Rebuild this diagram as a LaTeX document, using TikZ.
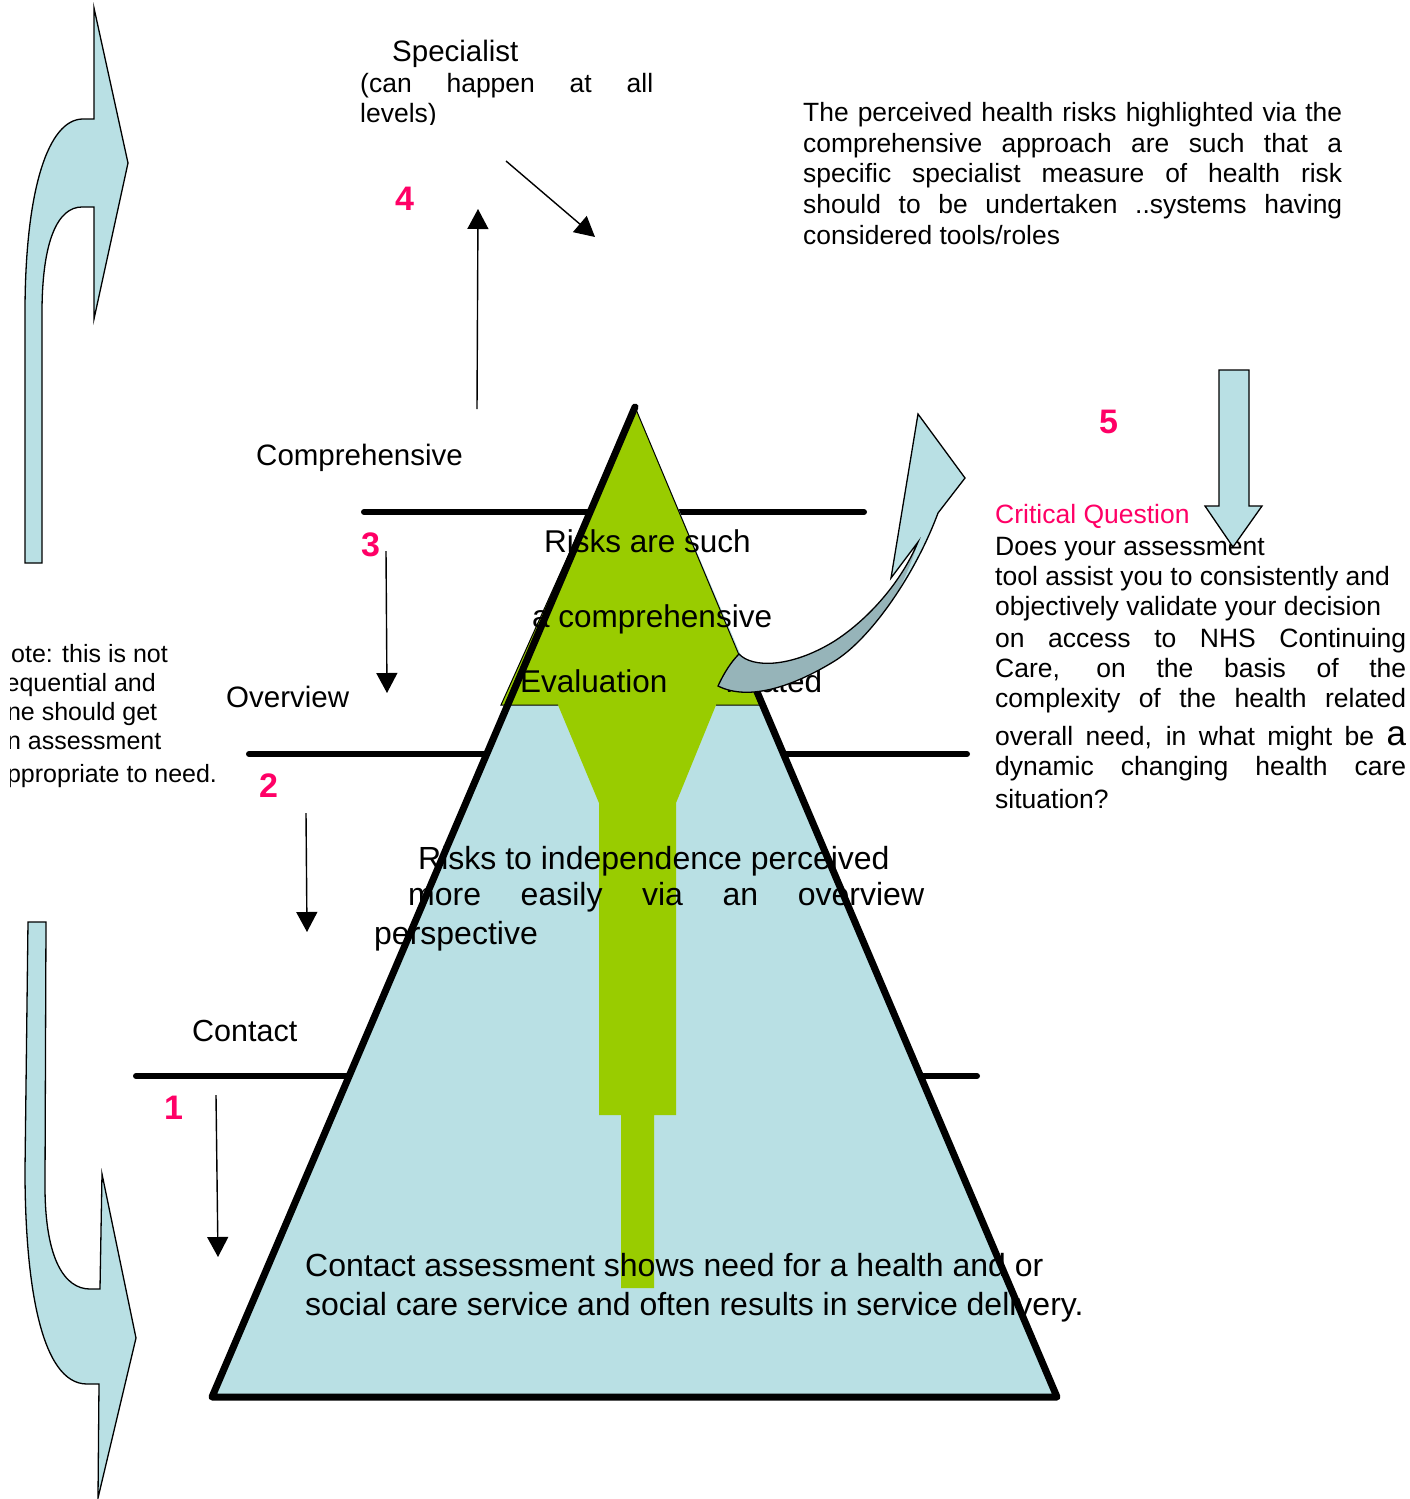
\documentclass[tikz,border=0pt]{standalone}
\usepackage{fontspec}
\setmainfont{Liberation Sans}
\usetikzlibrary{arrows.meta}
\definecolor{lblue}{RGB}{185,224,228}
\definecolor{qpink}{RGB}{255,0,102}
\definecolor{qgreen}{RGB}{153,204,0}
\definecolor{qgrey}{RGB}{150,180,185}
\newcommand\myfs[1]{\fontsize{#1}{#1}\selectfont}
\begin{document}
\begin{tikzpicture}[x=1pt,y=-1pt,
  txt/.style={inner sep=0pt, anchor=base west, text=black},
  num/.style={inner sep=0pt, anchor=base west, text=qpink, font=\myfs{34}\bfseries},
  levelline/.style={line width=6pt, line cap=round},
  thinarr/.style={line width=1.4pt, -{Triangle[length=20pt,width=21pt]}},
  blockshape/.style={fill=lblue, draw=black, line width=1.3pt, line join=miter},
]
\useasboundingbox[fill=white] (0,0) rectangle (1410,1499);

% side block arrows
\path[blockshape] (25,563) -- (25,313) .. controls (25,190) and (48,119) .. (83,119) -- (94,119) -- (94,8) -- (128,163) -- (94,319) -- (94,207) -- (82,207) .. controls (58,207) and (42,240) .. (42,313) -- (42,563) -- cycle;
\path[blockshape] (28,922) -- (46,922) -- (45,1186) .. controls (45,1260) and (65,1289) .. (90,1289) -- (100,1289) -- (102,1174) -- (136,1338) -- (98,1498) -- (99,1384) -- (87,1384) .. controls (40,1384) and (25,1280) .. (25,1170) -- cycle;

% level lines
\draw[levelline] (364,512) -- (864,512);
\draw[levelline] (249,754) -- (967,754);
\draw[levelline] (136,1076) -- (977,1076);

% pyramid fill
\fill[lblue] (635,407) -- (212,1397) -- (1057,1397) -- cycle;
% green arrow
\fill[qgreen] (635,407) -- (760,705) -- (716,705) -- (676,803) -- (676,1115) -- (654,1115) -- (654,1288) -- (621,1288) -- (621,1115) -- (599,1115) -- (599,803) -- (558,705) -- (501,705) -- cycle;
\draw[line width=1pt, line join=miter] (558,705) -- (501,705) -- (635,407) -- (760,705) -- (716,705);

% texts in pyramid
\node[txt, font=\myfs{31.5}] (t1) at (544,552) {Risks are such};
\node[txt, font=\myfs{31.5}] (t2) at (532,627) {a comprehensive};
\node[txt, font=\myfs{31.5}] (t3) at (520,692) {\makebox[302pt][s]{Evaluation related}};
\node[txt, font=\myfs{32}] (m1) at (418,869) {Risks to independence perceived};
\node[txt, font=\myfs{32}] (m2) at (408,905) {\makebox[516pt][s]{more easily via an overview}};
\node[txt, font=\myfs{32}] (m3) at (374,944) {perspective};
\node[txt, font=\myfs{32}] (b1) at (305,1276) {Contact assessment shows need for a health and or};
\node[txt, font=\myfs{32}] (b2) at (305,1315) {social care service and often results in service delivery.};

% pyramid outline
\draw[line width=7pt, line join=round, line cap=round] (752,680) -- (1057,1397) -- (212,1397) -- (635,407);

% curved arrow (grey back, light-blue head)
\def\curvedarrow{(739,654) .. controls (752,668) and (790,668) .. (833,642) .. controls (865,622) and (900,585) .. (918,542) -- (891,578) -- (918,414) -- (965,478) -- (938,513) .. controls (915,575) and (870,640) .. (833,662) .. controls (795,685) and (750,702) .. (718,686) .. controls (724,673) and (731,662) .. (739,654) -- cycle}
\fill[qgrey] \curvedarrow;
\fill[lblue] (918,414) -- (965,478) -- (938,513) .. controls (928,540) and (915,568) .. (899,590) .. controls (906,575) and (913,560) .. (918,542) -- (891,578) -- cycle;
\draw[line width=1.3pt, line join=miter] \curvedarrow;

% level labels
\node[txt, font=\myfs{29.5}] (lspec) at (392,61) {Specialist};
\node[txt, font=\myfs{26.5}] (lcan) at (360,92) {\makebox[293pt][s]{(can happen at all}};
\begin{scope}
\clip (300,95) rectangle (700,124);
\node[txt, font=\myfs{26.5}] (llev) at (360,122) {levels)};
\end{scope}
\node[txt, font=\myfs{29.5}] (lcomp) at (256,465) {Comprehensive};
\node[txt, font=\myfs{29.5}] (lover) at (226,707) {Overview};
\node[txt, font=\myfs{30.5}] (lcont) at (192,1041) {Contact};

% numbers
\node[num] (n4) at (395,210) {4};
\node[num] (n3) at (361,556) {3};
\node[num] (n2) at (259,797) {2};
\node[num] (n1) at (164,1119) {1};
\node[num] (n5) at (1099,433) {5};

% thin arrows
\coordinate (u1) at (477,409); \coordinate (u2) at (478,209);
\coordinate (d1) at (506,161); \coordinate (d2) at (595,237);
\coordinate (a3s) at (386,551); \coordinate (a3e) at (387,693);
\coordinate (a2s) at (306,813); \coordinate (a2e) at (307,932);
\coordinate (a1s) at (216,1095); \coordinate (a1e) at (218,1257);
\draw[thinarr] (u1) -- (u2);
\draw[thinarr] (d1) -- (d2);
\draw[thinarr] (a3s) -- (a3e);
\draw[thinarr] (a2s) -- (a2e);
\draw[thinarr] (a1s) -- (a1e);

% top right paragraph
\node[txt, font=\myfs{26.4}] (p1) at (803,121) {\makebox[539pt][s]{The perceived health risks highlighted via the}};
\node[txt, font=\myfs{26.4}] (p2) at (803,152) {\makebox[539pt][s]{comprehensive approach are such that a}};
\node[txt, font=\myfs{26.4}] (p3) at (803,182) {\makebox[539pt][s]{specific specialist measure of health risk}};
\node[txt, font=\myfs{26.4}] (p4) at (803,213) {\makebox[539pt][s]{should to be undertaken ..systems having}};
\node[txt, font=\myfs{26.4}] (p5) at (803,244) {considered tools/roles};

% critical question
\node[txt, font=\myfs{26.5}, text=qpink] (c0) at (995,523) {Critical Question};
\node[txt, font=\myfs{26.5}] (c1) at (995,555) {Does your assessment};
\node[txt, font=\myfs{26.5}] (c2) at (995,585) {tool assist you to consistently and};
\node[txt, font=\myfs{26.5}] (c3) at (995,615) {objectively validate your decision};
\node[txt, font=\myfs{26.5}] (c4) at (995,647) {\makebox[411pt][s]{on access to NHS Continuing}};
\node[txt, font=\myfs{26.5}] (c5) at (995,677) {\makebox[411pt][s]{Care, on the basis of the}};
\node[txt, font=\myfs{26.5}] (c6) at (995,707) {\makebox[411pt][s]{complexity of the health related}};
\node[txt, font=\myfs{26.5}] (c7) at (995,745) {\makebox[411pt][s]{overall need, in what might be {\myfs{35}a}}};
\node[txt, font=\myfs{26.5}] (c8) at (995,775) {\makebox[411pt][s]{dynamic changing health care}};
\node[txt, font=\myfs{26.5}] (c9) at (995,808) {situation?};

% down block arrow
\path[blockshape] (1219,370) -- (1249,370) -- (1249,506) -- (1262,506) -- (1233,547) -- (1205,506) -- (1219,506) -- cycle;

% note (clipped at left)
\begin{scope}
\clip (10,630) rectangle (300,800);
\node[txt, font=\myfs{25}] (o1) at (-7,662) {Note: this is not};
\node[txt, font=\myfs{25}] (o2) at (-7,691) {sequential and};
\node[txt, font=\myfs{25}] (o3) at (-7,720) {one should get};
\node[txt, font=\myfs{25}] (o4) at (-7,749) {an assessment};
\node[txt, font=\myfs{25}] (o5) at (-7,782) {appropriate to need.};
\end{scope}
\end{tikzpicture}
\end{document}
